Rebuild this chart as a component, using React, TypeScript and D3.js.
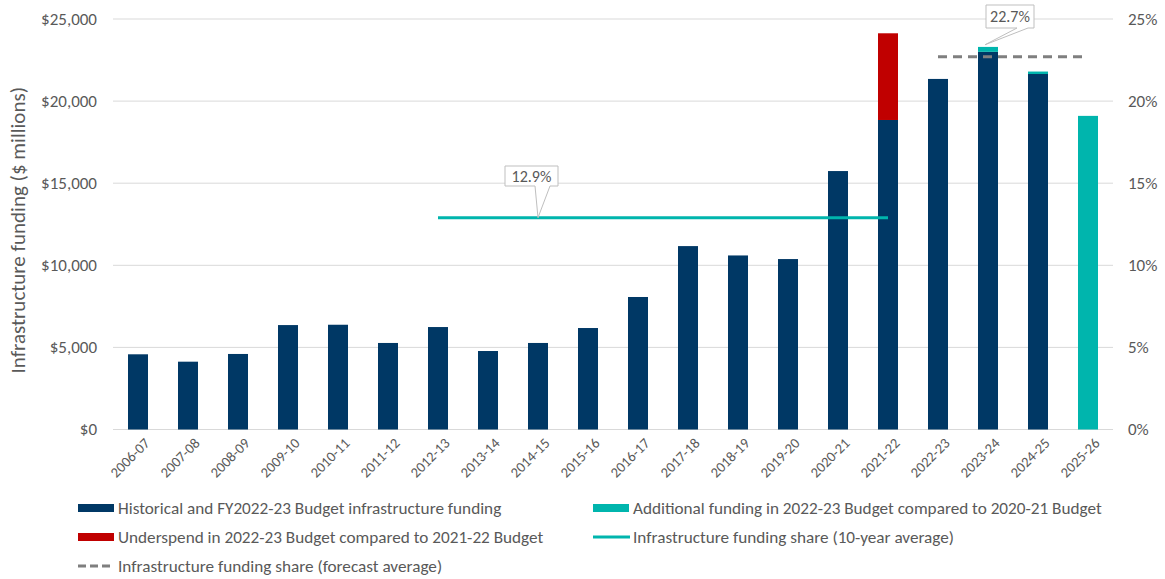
import React from "react";
import * as d3 from "d3";

const categories = ["2006-07","2007-08","2008-09","2009-10","2010-11","2011-12","2012-13","2013-14","2014-15","2015-16","2016-17","2017-18","2018-19","2019-20","2020-21","2021-22","2022-23","2023-24","2024-25","2025-26"];
const historical = [4580,4130,4600,6360,6380,5270,6240,4780,5270,6180,8070,11170,10600,10380,15740,18850,21350,23000,21650,0];
const additional = [0,0,0,0,0,0,0,0,0,0,0,0,0,0,0,0,0,300,150,19100];
const underspend = [0,0,0,0,0,0,0,0,0,0,0,0,0,0,0,5280,0,0,0,0];
const leftTicks = [0,5000,10000,15000,20000,25000];
const rightTicks = [0,5,10,15,20,25];
const tenYearAvg = 12.9;
const tenYearRange = ["2012-13","2021-22"];
const forecastAvg = 22.7;
const forecastRange = ["2022-23","2025-26"];

const NAVY = "#003865";
const TEAL = "#00B5AD";
const RED = "#C00000";
const GREY = "#7f7f7f";
const TXT = "#595959";
const GRID = "#d9d9d9";
const FONT = "Carlito, Calibri, 'Liberation Sans Narrow', 'Liberation Sans', Arial, sans-serif";

export default function App() {
  const W = 1165, H = 579;
  const left = 113, right = 1113, top = 19, bottom = 429.5;
  const x = d3.scaleBand<string>().domain(categories).range([left, right]).paddingInner(0.6).paddingOuter(0.3);
  const y = d3.scaleLinear().domain([0, 25000]).range([bottom, top]);
  const yr = d3.scaleLinear().domain([0, 25]).range([bottom, top]);
  const fmt = (v: number) => "$" + d3.format(",")(v);
  const cx = (c: string) => (x(c) as number) + x.bandwidth() / 2;

  const stacks = categories.map((c, i) => {
    const h = historical[i], a = additional[i], u = underspend[i];
    return { c, h, a, u };
  });

  const tip1x = cx("2014-15"), tip1y = yr(tenYearAvg);
  const tip2x = cx("2023-24") - 3, tip2y = yr(forecastAvg) - 12;

  const legendItems = [
    { type: "rect", color: NAVY, label: "Historical and FY2022-23 Budget infrastructure funding", x: 78, y: 508 },
    { type: "rect", color: TEAL, label: "Additional funding in 2022-23 Budget compared to 2020-21 Budget", x: 593, y: 508 },
    { type: "rect", color: RED, label: "Underspend in 2022-23 Budget compared to 2021-22 Budget", x: 78, y: 537 },
    { type: "line", color: TEAL, label: "Infrastructure funding share (10-year average)", x: 593, y: 537 },
    { type: "dash", color: GREY, label: "Infrastructure funding share (forecast average)", x: 78, y: 566 },
  ];

  return (
    <svg width={W} height={H} style={{ position: "absolute", left: 0, top: 0, background: "#fff" }} fontFamily={FONT}>
      {leftTicks.map((t) => (
        <line key={"g" + t} x1={left} x2={right} y1={y(t)} y2={y(t)} stroke={GRID} strokeWidth={1} />
      ))}
      {leftTicks.map((t) => (
        <text key={"l" + t} x={97} y={y(t)} dy="0.35em" textAnchor="end" fontSize={17} fill={TXT}>{fmt(t)}</text>
      ))}
      {rightTicks.map((t) => (
        <text key={"r" + t} x={1128} y={yr(t)} dy="0.35em" textAnchor="start" fontSize={17} fill={TXT}>{t + "%"}</text>
      ))}
      <text transform={`translate(25,${(top + bottom) / 2 + 6}) rotate(-90)`} textAnchor="middle" fontSize={21} fill={TXT}>
        Infrastructure funding ($ millions)
      </text>
      {stacks.map((s) => {
        const bx = x(s.c) as number, bw = x.bandwidth();
        return (
          <g key={s.c}>
            {s.h > 0 && <rect x={bx} y={y(s.h)} width={bw} height={y(0) - y(s.h)} fill={NAVY} />}
            {s.a > 0 && <rect x={bx} y={y(s.h + s.a)} width={bw} height={y(s.h) - y(s.h + s.a)} fill={TEAL} />}
            {s.u > 0 && <rect x={bx} y={y(s.h + s.u)} width={bw} height={y(s.h) - y(s.h + s.u)} fill={RED} />}
          </g>
        );
      })}
      {categories.map((c) => (
        <text key={"x" + c} transform={`translate(${cx(c) + 9},${bottom + 11}) rotate(-45)`} textAnchor="end" dy="0.35em" fontSize={14.5} fill={TXT}>{c}</text>
      ))}
      <line x1={cx(tenYearRange[0])} x2={cx(tenYearRange[1])} y1={yr(tenYearAvg)} y2={yr(tenYearAvg)} stroke={TEAL} strokeWidth={3} />
      <line x1={cx(forecastRange[0])} x2={cx(forecastRange[1])} y1={yr(forecastAvg)} y2={yr(forecastAvg)} stroke={GREY} strokeWidth={3} strokeDasharray="9,6" />
      <path d={`M505,166 H558 V186 H550 L${tip1x},${tip1y} L535,186 H505 Z`} fill="#fff" stroke="#bfbfbf" strokeWidth={1} />
      <text x={531.5} y={176} dy="0.35em" textAnchor="middle" fontSize={16} fill={TXT}>{tenYearAvg + "%"}</text>
      <path d={`M986,5 H1034 V28 H1028 L${tip2x},${tip2y} L1017,28 H986 Z`} fill="#fff" stroke="#bfbfbf" strokeWidth={1} />
      <text x={1010} y={16.5} dy="0.35em" textAnchor="middle" fontSize={16} fill={TXT}>{forecastAvg + "%"}</text>
      {legendItems.map((l) => (
        <g key={l.label}>
          {l.type === "rect" && <rect x={l.x} y={l.y - 4} width={36} height={8} fill={l.color} />}
          {l.type === "line" && <line x1={l.x} x2={l.x + 37} y1={l.y} y2={l.y} stroke={l.color} strokeWidth={3} />}
          {l.type === "dash" && <line x1={l.x} x2={l.x + 36} y1={l.y} y2={l.y} stroke={l.color} strokeWidth={3} strokeDasharray="8,4" />}
          <text x={l.x + 40} y={l.y} dy="0.35em" fontSize={17.2} fill={TXT}>{l.label}</text>
        </g>
      ))}
    </svg>
  );
}
